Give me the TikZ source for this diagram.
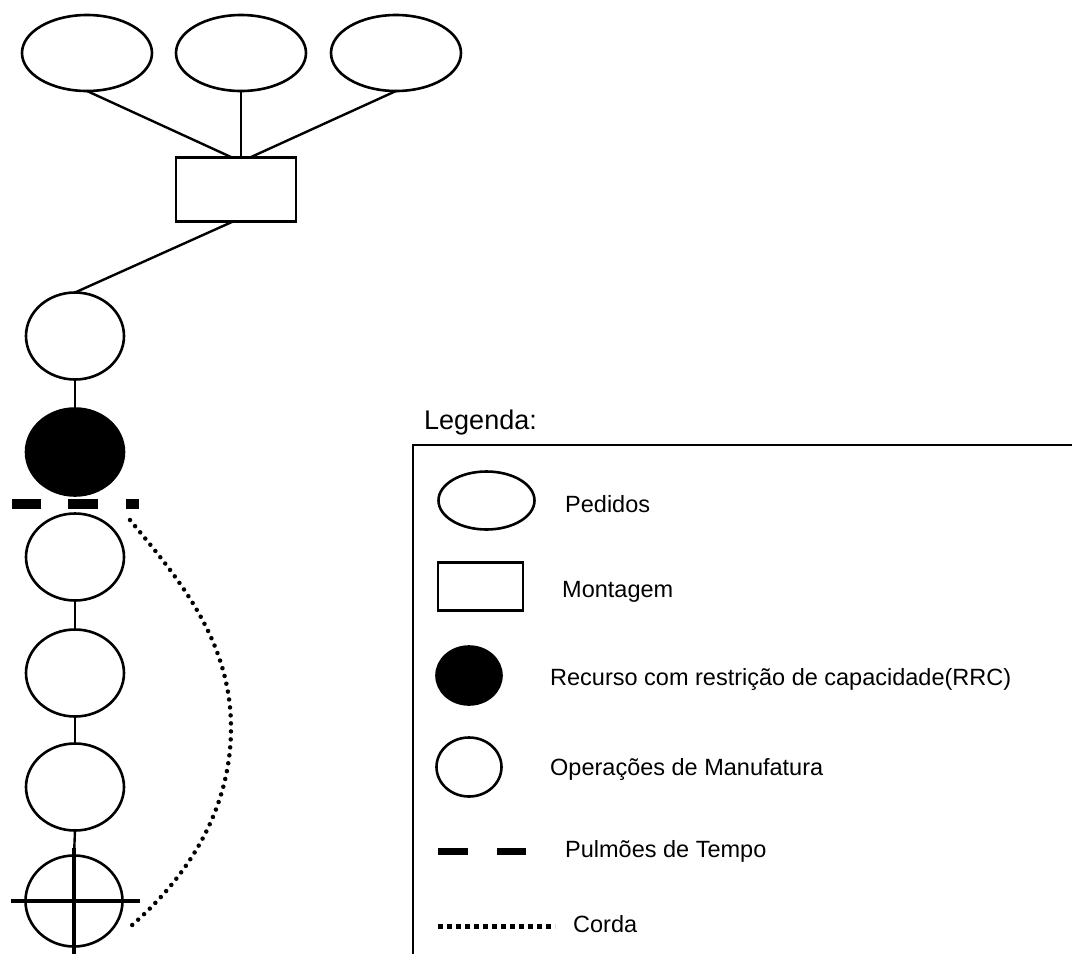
\documentclass[tikz,border=0pt]{standalone}
\usepackage{fontspec}
\setmainfont{Liberation Sans}
\usetikzlibrary{shapes.geometric,calc}
\begin{document}
\begin{tikzpicture}[x=1pt,y=-1pt,
  shp/.style={draw=black,line width=2.6pt,inner sep=0pt,outer sep=0pt},
  oval/.style={shp,ellipse,minimum width=130pt,minimum height=76pt},
  opcircle/.style={shp,ellipse,minimum width=98pt,minimum height=87pt},
  rrc/.style={opcircle,fill=black},
  asmbox/.style={shp,rectangle,minimum width=120pt,minimum height=64pt},
  link/.style={line width=2.4pt},
  crossline/.style={line width=4.8pt},
  buffer/.style={fill=black},
  rope/.style={line width=4.5pt,line cap=round,dash pattern=on 0pt off 8pt},
  legline/.style={line width=2.6pt},
  lbl/.style={anchor=base west,inner sep=0pt,font=\fontsize{23.5}{28}\selectfont},
]
\useasboundingbox (0,0) rectangle (1072,954);

% --- orders
\node[oval] (e1) at (87,53) {};
\node[oval] (e2) at (241,53) {};
\node[oval] (e3) at (396,53) {};
% --- assembly
\node[asmbox] (asm) at (236,189.5) {};
\draw[link] (e1.south) -- ([xshift=-4pt]asm.north);
\draw[link] (e2.south) -- (e2.south |- asm.north);
\draw[link] (e3.south) -- ([xshift=14pt]asm.north);

% --- operations chain
\node[opcircle] (c1) at (75,336) {};
\node[rrc] (rrc) at (75,452) {};
\node[opcircle] (c3) at (75,557) {};
\node[opcircle] (c4) at (75,673) {};
\node[opcircle] (c5) at (75,787) {};
\node[opcircle,minimum width=97pt,minimum height=91pt] (cx) at (74,901) {};

\draw[link] ([xshift=-3pt]asm.south) -- (c1.north);
\draw[link] (c1.south) -- (rrc.north);
\draw[link] (c3.south) -- (c4.north);
\draw[link] (c4.south) -- (c5.north);
\draw[link] (c5.south) -- (cx.north);
% cross on the last operation
\draw[crossline] ($(cx.center)+(-63,0)$) -- ($(cx.center)+(66,0)$);
\draw[crossline] ($(cx.center)+(0,-53)$) -- ($(cx.center)+(0,53)$);

% --- time buffer
\fill[buffer] (12,499) rectangle (41,509);
\fill[buffer] (68,499) rectangle (98,509);
\fill[buffer] (126,499) rectangle (139,509);

% --- rope
\coordinate (ropeA) at (130,520);
\coordinate (ropeP) at (231,728);
\coordinate (ropeB) at (131,926);
\draw[rope] (ropeA) .. controls (178,578) and (231,640) .. (ropeP)
                    .. controls (231,815) and (182,882) .. (ropeB);

% --- legend
\node[lbl,font=\fontsize{27}{32}\selectfont] (legtitle) at (424,429) {Legenda:};
\draw[legline] (1072,445) -- (413,445) -- (413,954);

\node[shp,ellipse,minimum width=96pt,minimum height=58pt] (lgped) at (486.5,500.5) {};
\node[lbl] (tped) at (565,512) {Pedidos};

\node[shp,rectangle,minimum width=85pt,minimum height=48pt] (lgasm) at (480.5,586.5) {};
\node[lbl] (tasm) at (562,597) {Montagem};

\node[shp,ellipse,fill=black,minimum width=65pt,minimum height=58pt] (lgrrc) at (469,675.5) {};
\node[lbl] (trrc) at (550,685) {Recurso com restrição de capacidade(RRC)};

\node[shp,ellipse,minimum width=65pt,minimum height=59pt] (lgop) at (469,767) {};
\node[lbl] (top) at (550,775) {Operações de Manufatura};

\fill[buffer] (438,848) rectangle (468,855);
\fill[buffer] (497,848) rectangle (526,855);
\node[lbl] (tbuf) at (565,857) {Pulmões de Tempo};

\coordinate (lgropeA) at (438,926);
\coordinate (lgropeB) at (555,926);
\draw[line width=5pt,dash pattern=on 5pt off 4pt] (lgropeA) -- (lgropeB);
\node[lbl] (trope) at (573,932) {Corda};
\end{tikzpicture}
\end{document}
